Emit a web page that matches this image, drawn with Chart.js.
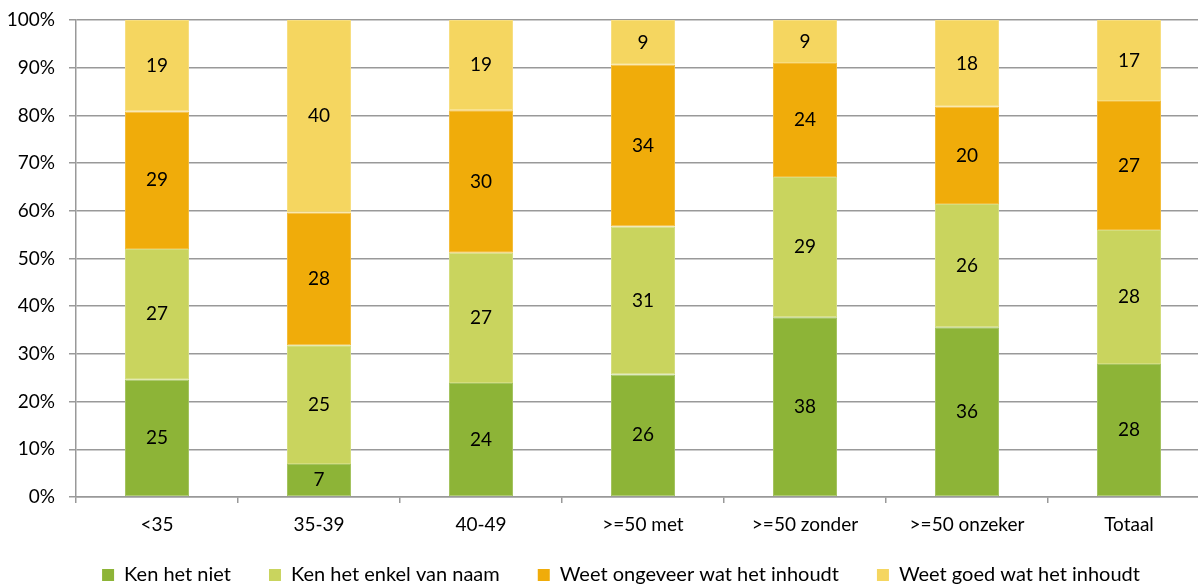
<!DOCTYPE html>
<html><head><meta charset="utf-8">
<script src="https://cdn.jsdelivr.net/npm/chart.js@4"></script>
<style>html,body{margin:0;padding:0;overflow:hidden;background:#fff}</style>
</head><body>
<canvas id="c" width="1242" height="615"></canvas>
<script>
const categories = ['<35', '35-39', '40-49', '>=50 met', '>=50 zonder', '>=50 onzeker', 'Totaal'];
const seriesNames = ['Ken het niet', 'Ken het enkel van naam', 'Weet ongeveer wat het inhoudt', 'Weet goed wat het inhoudt'];
const kenNiet = [24.6, 6.9, 23.9, 25.7, 37.7, 35.6, 27.9];
const kenNaam = [27.4, 24.9, 27.3, 31.0, 29.4, 25.8, 28.1];
const weetOngeveer = [28.8, 27.8, 29.9, 33.9, 23.9, 20.4, 27.0];
const weetGoed = [19.2, 40.4, 18.9, 9.4, 9.0, 18.2, 17.0];
const yTicks = [0, 10, 20, 30, 40, 50, 60, 70, 80, 90, 100];

const colors = ['#8DB437', '#C9D45E', '#F0AC0A', '#F5D660'];
const edgeColors = ['#A4C35F', '#D4DD7E', '#F3BD3B', '#F7DE80'];
const FONT = 'Lato';
const FS = 19;
const LEGEND_FS = 20;

const segLabels = {
  id: 'segLabels',
  afterDatasetsDraw(chart) {
    const ctx = chart.ctx;
    ctx.save();
    ctx.font = FS + 'px ' + FONT;
    ctx.fillStyle = '#000';
    ctx.textAlign = 'center';
    ctx.textBaseline = 'middle';
    chart.data.datasets.forEach((ds, i) => {
      chart.getDatasetMeta(i).data.forEach((bar, j) => {
        ctx.fillText(String(Math.round(ds.data[j])), bar.x, (bar.y + bar.base) / 2);
      });
    });
    ctx.restore();
  }
};

const legendShift = {
  id: 'legendShift',
  afterLayout(chart) {
    if (chart.legend) {
      chart.legend.left += 32;
      chart.legend.top = 527;
    }
  }
};

const seriesData = [kenNiet, kenNaam, weetOngeveer, weetGoed];
new Chart(document.getElementById('c'), {
  type: 'bar',
  data: {
    labels: categories,
    datasets: seriesData.map((d, i) => ({
      label: seriesNames[i],
      data: d,
      backgroundColor: colors[i],
      borderColor: edgeColors[i],
      borderWidth: 1,
      borderSkipped: false,
      categoryPercentage: 1,
      barPercentage: 0.395
    }))
  },
  options: {
    responsive: false,
    animation: false,
    devicePixelRatio: 1,
    layout: { padding: { left: 0, top: 20, right: 32, bottom: 0 } },
    plugins: {
      tooltip: { enabled: false },
      legend: {
        position: 'bottom',
        labels: {
          boxWidth: 12, boxHeight: 12, padding: 38,
          color: '#000',
          font: { family: FONT, size: LEGEND_FS },
          generateLabels(chart) {
            return chart.data.datasets.map((ds, i) => ({
              text: ds.label, fillStyle: colors[i], strokeStyle: colors[i],
              lineWidth: 0, hidden: false, datasetIndex: i, fontColor: '#000'
            }));
          }
        }
      }
    },
    scales: {
      x: {
        stacked: true,
        afterFit(s) { s.height = 50; },
        grid: { offset: true, drawOnChartArea: false, tickLength: 6, color: '#999', lineWidth: 1.5 },
        border: { color: '#999', width: 1.5 },
        ticks: { color: '#000', padding: 10, font: { family: FONT, size: FS } }
      },
      y: {
        stacked: true,
        min: 0, max: 100,
        afterFit(s) { s.width = 76; s.paddingTop = 10; s.paddingBottom = 10; },
        afterBuildTicks(s) { s.ticks = yTicks.map(v => ({ value: v })); },
        grid: { color: '#999', lineWidth: 1.5, tickLength: 7 },
        border: { color: '#999', width: 1.5 },
        ticks: { color: '#000', padding: 14, font: { family: FONT, size: FS }, callback: v => v + '%' }
      }
    }
  },
  plugins: [segLabels, legendShift]
});
</script>
</body></html>
